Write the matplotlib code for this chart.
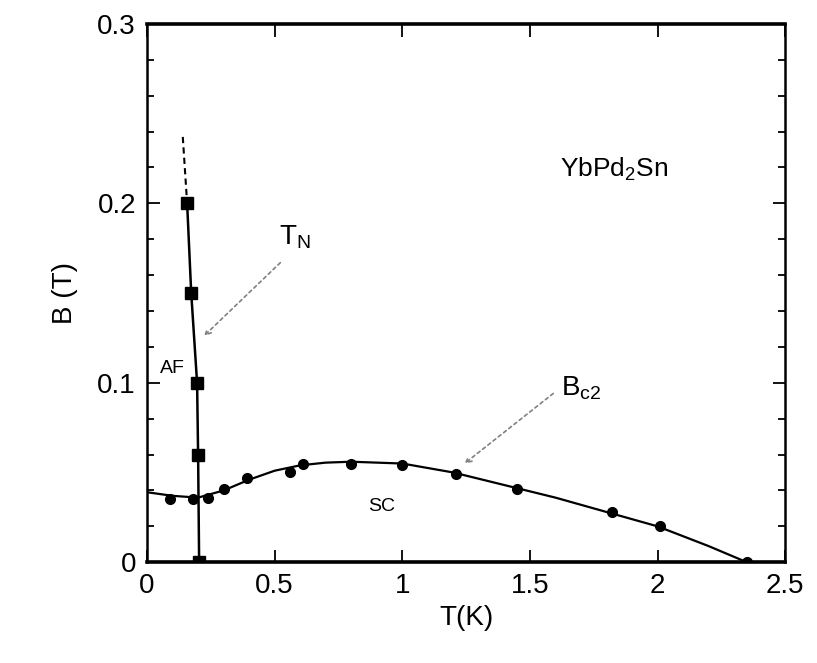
import matplotlib
matplotlib.use("Agg")
import matplotlib.pyplot as plt
from matplotlib.ticker import MultipleLocator

# Data
tn_T = [0.157, 0.173, 0.196, 0.200, 0.204]
tn_B = [0.200, 0.150, 0.100, 0.060, 0.000]
tn_ext_T = [0.140, 0.157]
tn_ext_B = [0.237, 0.200]

bc2_T = [0.09, 0.18, 0.24, 0.30, 0.39, 0.56, 0.61, 0.80, 1.00, 1.21, 1.45, 1.82, 2.01, 2.35]
bc2_B = [0.035, 0.035, 0.036, 0.041, 0.047, 0.050, 0.055, 0.055, 0.054, 0.049, 0.041, 0.028, 0.020, 0.000]

fit_T = [0.0, 0.1, 0.2, 0.3, 0.4, 0.5, 0.6, 0.7, 0.8, 1.0, 1.2, 1.4, 1.6, 1.8, 2.0, 2.2, 2.35]
fit_B = [0.039, 0.037, 0.036, 0.040, 0.046, 0.051, 0.054, 0.0555, 0.056, 0.055, 0.050, 0.043, 0.036, 0.028, 0.020, 0.009, 0.0]

xticks = [0, 0.5, 1, 1.5, 2, 2.5]
xticklabels = ["0", "0.5", "1", "1.5", "2", "2.5"]
yticks = [0, 0.1, 0.2, 0.3]
yticklabels = ["0", "0.1", "0.2", "0.3"]

plt.rcParams['font.family'] = ['Liberation Sans', 'DejaVu Sans']
plt.rcParams['mathtext.fontset'] = 'custom'
plt.rcParams['mathtext.rm'] = 'Liberation Sans'
plt.rcParams['mathtext.it'] = 'Liberation Sans'

fig = plt.figure(figsize=(8.17, 6.63), dpi=100)
ax = fig.add_axes([0.18, 0.152, 0.781, 0.812])

ax.plot(fit_T, fit_B, color='black', lw=1.6, zorder=2)
ax.plot(bc2_T, bc2_B, 'o', color='black', ms=7, zorder=3)
ax.plot(tn_T, tn_B, color='black', lw=1.8, zorder=2)
ax.plot(tn_ext_T, tn_ext_B, color='black', lw=1.5, ls=(0, (3, 2)), zorder=2)
ax.plot(tn_T, tn_B, 's', color='black', ms=8, zorder=3)

ax.set_xlim(0, 2.5)
ax.set_ylim(0, 0.3)
ax.set_xticks(xticks)
ax.set_xticklabels(xticklabels, fontsize=20)
ax.set_yticks(yticks)
ax.set_yticklabels(yticklabels, fontsize=20)
ax.yaxis.set_minor_locator(MultipleLocator(0.02))
ax.tick_params(which='both', direction='in', top=True, right=True, width=1.3)
ax.tick_params(which='major', length=9, pad=8)
ax.tick_params(which='minor', length=5)
for s in ax.spines.values():
    s.set_linewidth(1.8)
ax.spines['bottom'].set_linewidth(2.6)
ax.spines['top'].set_linewidth(2.6)

ax.set_xlabel("T(K)", fontsize=20, labelpad=4)
ax.set_ylabel("B (T)", fontsize=20, labelpad=14)

ax.text(1.83, 0.219, r"YbPd$\mathrm{_2}$Sn", fontsize=19, ha='center', va='center')
ax.text(0.58, 0.181, r"T$\mathrm{_N}$", fontsize=20, ha='center', va='center')
ax.text(1.7, 0.097, r"B$\mathrm{_{c2}}$", fontsize=20, ha='center', va='center')
ax.text(0.1, 0.108, "AF", fontsize=14, ha='center', va='center')
ax.text(0.92, 0.031, "SC", fontsize=14, ha='center', va='center')

ax.annotate("", xy=(0.215, 0.125), xytext=(0.53, 0.168),
            arrowprops=dict(arrowstyle='->', color='gray', lw=1.2, ls=(0, (2, 2))))
ax.annotate("", xy=(1.235, 0.054), xytext=(1.6, 0.095),
            arrowprops=dict(arrowstyle='->', color='gray', lw=1.2, ls=(0, (2, 2))))

fig.savefig("out.png", dpi=100)
